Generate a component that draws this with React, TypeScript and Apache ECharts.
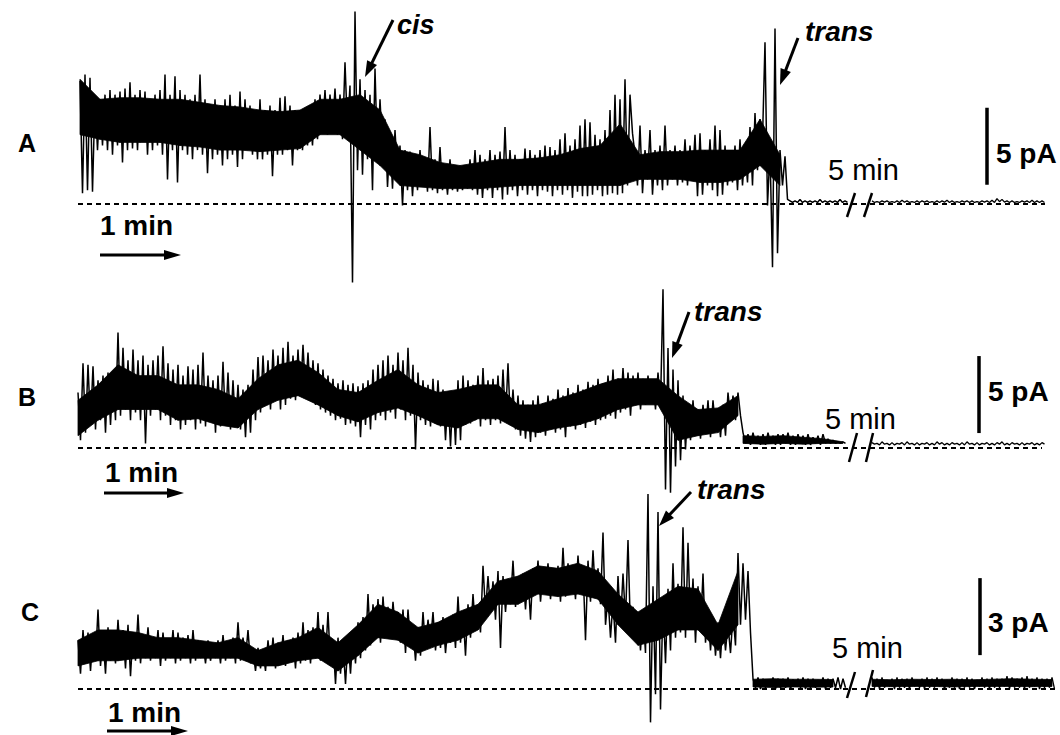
import React, { useEffect, useRef } from "react";
import * as echarts from "echarts";

// time scale: 1 min = 80 px  -> 0.75 s per px; traces sampled as (high, low) pairs every 3.75 s
const STEP = 3.75;
const CORE_STEP = 15; // dense part of the noise read every 15 s
const X_MAX = 795; // seconds across the figure

// ---------- Panel A (pA) ----------
const A_HI = [
  8.0, 8.4, 8.2, 7.0, 6.8, 7.1, 7.4, 7.1, 7.3, 7.5,
  7.9, 7.1, 7.4, 7.3, 6.8, 7.1, 7.4, 8.4, 7.1, 8.3,
  7.4, 7.1, 6.8, 7.1, 8.4, 6.8, 6.4, 6.8, 6.1, 6.8,
  7.1, 6.4, 7.3, 6.8, 6.4, 6.1, 6.8, 6.1, 6.4, 6.1,
  6.9, 7.0, 6.4, 6.1, 5.8, 6.1, 5.8, 6.8, 7.1, 7.4,
  7.1, 7.5, 7.1, 9.2, 7.7, 12.5, 8.1, 7.4, 7.1, 8.8,
  6.8, 5.5, 4.2, 4.8, 3.8, 3.5, 3.4, 3.2, 3.5, 3.0,
  5.0, 2.9, 3.7, 2.5, 2.9, 2.5, 2.2, 2.5, 2.9, 3.5,
  3.2, 2.9, 3.5, 3.2, 3.4, 5.0, 3.5, 3.2, 2.9, 3.6,
  3.5, 3.2, 3.5, 3.8, 3.7, 3.5, 4.2, 4.6, 3.8, 4.2,
  5.1, 5.5, 5.3, 4.5, 4.2, 4.8, 6.1, 7.1, 6.8, 8.1,
  7.1, 3.2, 5.1, 3.5, 4.8, 3.5, 3.8, 5.1, 3.5, 3.8,
  3.5, 4.2, 3.8, 4.5, 4.6, 3.5, 4.2, 5.1, 4.8, 3.8,
  3.5, 3.8, 4.2, 3.5, 5.0, 5.9, 5.5, 10.5, 3.5, 11.4,
  3.5, 3.1,
  0.2, 0.2, 0.3, 0.2, 0.2, 0.2, 0.3, 0.2, 0.2, 0.2, 0.3, 0.2,
];
const A_LO = [
  0.7, 0.9, 0.8, 3.5, 3.8, 3.5, 3.2, 3.8, 2.7, 3.5,
  3.6, 3.5, 4.2, 3.2, 3.5, 3.8, 3.2, 1.6, 3.5, 1.4,
  3.5, 3.2, 2.9, 3.5, 3.2, 2.0, 2.9, 3.2, 2.5, 2.9,
  3.2, 2.4, 2.9, 3.5, 3.2, 2.9, 2.9, 3.2, 1.8, 3.2,
  3.2, 3.5, 2.5, 3.5, 3.5, 3.8, 3.8, 4.2, 4.8, 4.5,
  4.9, 4.5, 4.2, 4.8, -5.1, 2.2, 1.9, 2.9, 0.9, 2.9,
  3.5, 1.1, 1.0, 1.9, -0.1, 0.9, 0.5, 0.9, 1.2, 0.8,
  0.9, 0.7, 0.9, 0.6, 0.9, 0.8, 0.9, 1.0, 0.9, 0.6,
  0.4, 0.9, 0.4, 0.9, 0.3, 0.6, 0.9, 0.5, 0.9, 0.6,
  0.9, 0.5, 0.9, 0.8, 0.5, 0.9, 0.6, 0.9, 0.4, 0.8,
  0.5, 0.5, 0.6, 0.9, 0.5, 0.6, 0.7, 0.6, 0.7, 1.2,
  4.6, 1.2, 0.7, 1.6, 0.6, 1.2, 0.9, 1.2, 1.6, 1.2,
  1.4, 1.2, 1.6, 0.5, 0.6, 1.2, 0.9, 0.5, 0.6, 1.2,
  1.4, 0.9, 1.2, 1.4, 1.2, 2.2, 4.2, -0.1, -4.1, -3.2,
  1.2, 0.3,
  0.1, 0.1, 0.1, 0.1, 0.1, 0.1, 0.1, 0.1, 0.1, 0.1, 0.1, 0.1,
];
// dense part of the noise band (every 15 s)
const A_CORE_TOP = [
  8.1, 6.8, 6.9, 6.9, 6.8, 6.8, 6.6, 6.4, 6.3, 6.1,
  6.0, 6.1, 6.8, 6.8, 7.1, 6.1, 3.5, 3.2, 2.7, 2.5,
  2.7, 2.9, 2.9, 3.0, 3.2, 3.6, 3.8, 5.2, 3.2, 3.4,
  3.4, 3.5, 3.5, 3.5, 5.5, 3.2,
];
const A_CORE_BOT = [
  4.5, 4.2, 4.0, 4.0, 4.0, 3.8, 3.7, 3.5, 3.5, 3.4,
  3.5, 3.6, 4.5, 4.5, 3.5, 2.5, 1.2, 1.1, 1.0, 1.0,
  1.0, 1.1, 1.2, 1.2, 1.2, 1.2, 1.2, 1.2, 1.6, 1.6,
  1.6, 1.4, 1.4, 1.6, 2.5, 1.2,
];
const A_TAIL_HI = [
  0.2, 0.15, 0.2, 0.2, 0.15, 0.2, 0.25, 0.2, 0.15, 0.2, 0.2, 0.2, 0.15, 0.2, 0.2, 0.25, 0.2, 0.15,
  0.2, 0.2, 0.2, 0.15, 0.2, 0.2, 0.25, 0.35, 0.3, 0.2, 0.2, 0.15, 0.2, 0.2, 0.25, 0.2, 0.2,
];
const A_TAIL_LO = [
  0.1, 0.1, 0.12, 0.1, 0.1, 0.1, 0.12, 0.1, 0.1, 0.1, 0.12, 0.1, 0.1, 0.1, 0.12, 0.1, 0.1, 0.1,
  0.12, 0.1, 0.1, 0.1, 0.12, 0.1, 0.1, 0.15, 0.12, 0.1, 0.1, 0.1, 0.12, 0.1, 0.1, 0.1, 0.1,
];

// ---------- Panel B (pA) ----------
const B_HI = [
  3.6, 5.5, 5.4, 5.3, 4.4, 4.7, 4.9, 4.7, 7.5, 6.5,
  5.7, 6.4, 5.7, 6.0, 5.4, 5.7, 6.0, 6.6, 5.5, 5.1,
  5.4, 4.7, 5.3, 5.1, 5.4, 6.2, 4.7, 4.4, 4.7, 5.6,
  4.9, 4.4, 4.1, 3.8, 4.1, 5.1, 5.9, 6.0, 5.7, 6.4,
  6.0, 6.5, 6.9, 6.0, 6.4, 6.7, 6.2, 5.7, 5.5, 5.1,
  4.7, 4.5, 4.2, 4.4, 4.1, 4.2, 4.0, 4.2, 4.4, 5.1,
  5.4, 5.7, 6.0, 5.4, 6.2, 5.7, 6.5, 5.4, 4.9, 4.4,
  4.1, 4.5, 4.4, 3.8, 3.4, 3.6, 4.4, 4.7, 4.4, 4.1,
  4.7, 5.2, 4.4, 4.5, 4.7, 5.1, 5.5, 3.8, 3.4, 3.1,
  2.8, 3.1, 3.4, 2.9, 3.4, 3.2, 3.8, 3.4, 3.9, 3.6,
  4.1, 3.8, 4.3, 4.1, 4.5, 4.2, 4.7, 5.1, 4.5, 5.2,
  4.9, 4.7, 4.9, 4.5, 4.7, 4.4, 4.9, 10.3, 6.5, 5.1,
  4.4, 3.4, 2.8, 3.1, 2.5, 2.8, 3.1, 3.1, 2.5, 2.8,
  3.6, 3.4, 3.6,
  1.0, 0.9, 1.0, 0.8, 0.9, 1.0, 0.8, 0.9, 0.9, 1.0, 0.8, 0.9, 0.8, 0.9, 0.7, 0.8, 0.9, 0.6, 0.5, 0.4, 0.4,
];
const B_LO = [
  0.5, 1.0, 1.5, 1.2, 1.8, 1.0, 1.5, 1.8, 2.1, 2.5,
  1.8, 2.3, 1.8, 0.3, 2.1, 2.5, 1.8, 2.1, 1.5, 1.8,
  1.2, 1.5, 1.8, 1.2, 1.6, 1.4, 1.8, 1.0, 1.4, 1.5,
  1.2, 1.4, 1.2, 0.7, 1.0, 1.8, 2.3, 2.8, 2.5, 3.1,
  2.5, 2.8, 3.2, 3.1, 3.4, 3.6, 3.1, 2.8, 2.5, 2.3,
  2.1, 1.8, 1.9, 1.5, 1.6, 1.4, 0.7, 1.5, 1.2, 1.8,
  2.1, 1.8, 2.3, 1.9, 2.5, 1.8, 2.1, -0.1, 1.8, 1.5,
  1.4, 1.6, 1.4, 0.5, 0.1, 0.2, 0.5, 1.5, 1.6, 1.8,
  1.4, 1.8, 1.5, 1.8, 1.6, 1.8, 1.5, 1.2, 0.8, 0.6,
  0.4, 0.7, 1.0, 0.8, 1.2, 1.0, 1.2, 0.7, 1.4, 1.2,
  1.5, 1.3, 1.7, 1.5, 1.8, 1.9, 2.1, 1.9, 2.3, 2.5,
  2.1, 2.8, 2.5, 2.8, 3.1, 2.5, 2.8, -2.7, -2.9, -1.2,
  -0.8, -0.1, 0.5, 0.8, 0.6, 1.0, 0.7, 1.2, 0.7, 0.8,
  1.9, 1.8, 2.1,
  0.3, 0.2, 0.3, 0.2, 0.2, 0.3, 0.2, 0.2, 0.3, 0.2, 0.2, 0.3, 0.2, 0.2, 0.3, 0.2, 0.3, 0.3, 0.3, 0.3, 0.3,
];
const B_CORE_TOP = [
  3.1, 4.1, 5.4, 4.7, 4.7, 4.1, 4.1, 3.8, 3.2, 4.5,
  5.4, 5.7, 4.9, 3.8, 3.6, 4.4, 5.1, 4.1, 3.6, 3.8,
  4.1, 4.1, 2.8, 2.8, 3.2, 3.6, 4.1, 4.5, 4.5, 4.5,
  3.4, 2.5, 2.6, 3.4,
];
const B_CORE_BOT = [
  0.8, 1.8, 2.5, 2.5, 2.5, 1.8, 1.9, 1.5, 1.3, 2.5,
  3.1, 3.4, 2.8, 2.1, 1.7, 2.3, 2.6, 2.1, 1.5, 1.3,
  1.9, 1.9, 1.2, 1.0, 1.3, 1.5, 1.9, 2.5, 2.8, 2.8,
  0.5, 0.8, 1.0, 2.1,
];
const B_LOW_CORE_TOP = [0.8, 0.75, 0.8, 0.7, 0.6, 0.4];
const B_LOW_CORE_BOT = [0.3, 0.25, 0.3, 0.25, 0.3, 0.3];
const B_TAIL_HI = [
  0.35, 0.3, 0.4, 0.3, 0.35, 0.3, 0.35, 0.4, 0.3, 0.35, 0.3, 0.35, 0.3, 0.4, 0.35, 0.3, 0.35, 0.3,
  0.35, 0.4, 0.3, 0.35, 0.3, 0.35, 0.3, 0.35, 0.4, 0.3, 0.35, 0.3, 0.35, 0.3, 0.35, 0.3, 0.35,
];
const B_TAIL_LO = [
  0.25, 0.2, 0.25, 0.2, 0.2, 0.25, 0.2, 0.25, 0.2, 0.2, 0.25, 0.2, 0.2, 0.25, 0.2, 0.2, 0.25, 0.2,
  0.2, 0.25, 0.2, 0.2, 0.25, 0.2, 0.2, 0.25, 0.2, 0.2, 0.25, 0.2, 0.2, 0.25, 0.2, 0.2, 0.25,
];

// ---------- Panel C (pA) ----------
const C_HI = [
  1.9, 2.3, 2.2, 2.1, 3.1, 2.0, 2.4, 2.1, 2.7, 2.3,
  2.5, 2.2, 2.9, 2.1, 2.4, 2.0, 2.3, 2.2, 1.9, 2.3,
  2.2, 2.0, 2.1, 2.3, 1.9, 1.8, 1.9, 1.7, 1.9, 2.1,
  1.8, 2.0, 2.6, 2.0, 2.3, 1.5, 1.6, 1.5, 1.9, 2.0,
  1.8, 2.1, 1.9, 2.0, 2.2, 2.6, 2.3, 2.4, 3.0, 2.5,
  3.0, 1.9, 2.0, 1.8, 1.9, 2.2, 2.6, 2.8, 3.7, 3.3,
  3.5, 3.6, 3.2, 3.4, 3.0, 3.1, 3.1, 2.3, 2.4, 3.0,
  2.7, 3.0, 2.6, 2.8, 2.5, 2.9, 3.6, 3.0, 3.3, 3.7,
  3.2, 4.8, 4.4, 4.2, 4.6, 4.4, 4.2, 5.0, 4.3, 4.5,
  4.4, 4.7, 5.0, 4.6, 4.9, 4.6, 4.8, 5.5, 4.9, 4.6,
  5.2, 4.8, 5.0, 5.4, 4.7, 6.1, 3.6, 3.4, 4.4, 4.5,
  5.8, 3.2, 2.8, 3.0, 7.6, 4.0, 6.9, 3.5, 3.9, 4.9,
  4.1, 6.3, 5.7, 4.3, 4.0, 4.5, 3.0, 2.7, 2.6, 2.7,
  2.5, 2.9, 5.3, 4.9, 4.6,
  0.4, 0.45, 0.4, 0.35, 0.45, 0.4, 0.4, 0.45, 0.35, 0.4, 0.45, 0.4, 0.4, 0.35, 0.45, 0.4, 0.4, 0.45, 0.4,
];
const C_LO = [
  0.6, 1.0, 0.7, 1.1, 0.9, 0.6, 1.1, 1.0, 1.2, 0.8,
  0.5, 1.1, 1.0, 1.2, 1.1, 1.2, 0.9, 1.1, 1.2, 1.0,
  1.1, 1.2, 1.0, 1.1, 1.2, 1.0, 1.1, 1.2, 1.0, 1.1,
  1.2, 1.0, 1.1, 1.2, 1.0, 0.7, 0.8, 0.7, 0.9, 0.8,
  1.0, 0.9, 1.1, 0.8, 1.0, 1.1, 1.0, 1.2, 1.1, 1.2,
  0.9, 0.2, 0.6, 0.2, 0.6, 1.0, 1.2, 1.5, 1.7, 2.0,
  1.8, 2.1, 2.0, 2.2, 1.8, 1.4, 1.7, 1.1, 1.3, 1.6,
  1.8, 1.5, 1.6, 1.4, 1.8, 1.6, 1.8, 1.3, 2.0, 2.3,
  2.2, 3.0, 3.1, 2.7, 1.6, 3.0, 3.3, 3.2, 3.5, 3.1,
  2.7, 3.7, 3.4, 3.8, 3.5, 3.7, 3.4, 3.6, 3.9, 3.5,
  3.7, 1.9, 3.4, 3.6, 3.3, 2.5, 2.0, 1.8, 2.5, 2.7,
  2.2, 1.9, 1.5, 1.4, -1.3, -0.2, -0.8, 1.0, 1.5, 2.0,
  2.2, 2.0, 2.4, 1.8, 2.3, 1.8, 1.5, 1.3, 1.2, 1.5,
  1.4, 1.7, 2.5, 2.7, 2.2,
  0.05, 0.0, 0.05, 0.1, 0.0, 0.05, 0.05, 0.0, 0.1, 0.05, 0.0, 0.05, 0.05, 0.1, 0.0, 0.05, 0.05, 0.0, 0.05,
];
const C_CORE_TOP = [
  1.9, 2.3, 2.3, 2.2, 2.0, 2.0, 1.9, 1.8, 2.0, 1.5,
  1.8, 2.0, 2.4, 1.8, 2.5, 3.3, 3.0, 2.4, 2.6, 3.0,
  3.3, 4.2, 4.4, 4.8, 4.7, 4.9, 4.6, 3.7, 3.0, 3.5,
  4.0, 3.9, 2.5, 4.6,
];
const C_CORE_BOT = [
  0.9, 1.1, 1.1, 1.2, 1.2, 1.2, 1.2, 1.2, 1.2, 0.9,
  0.9, 1.1, 1.2, 0.7, 1.3, 2.0, 1.9, 1.4, 1.7, 1.9,
  2.3, 3.3, 3.3, 3.7, 3.6, 3.7, 3.5, 2.5, 1.7, 1.9,
  2.3, 2.3, 1.5, 2.5,
];
const C_LOW_CORE_TOP = [0.38, 0.4, 0.38, 0.38, 0.37];
const C_LOW_CORE_BOT = [0.08, 0.06, 0.08, 0.07, 0.08];
const C_TAIL_HI = [
  0.45, 0.4, 0.45, 0.35, 0.4, 0.45, 0.4, 0.4, 0.45, 0.35, 0.4, 0.45, 0.4, 0.45, 0.4, 0.35, 0.45, 0.4, 0.4,
  0.45, 0.4, 0.35, 0.45, 0.4, 0.45, 0.4, 0.4, 0.5, 0.45, 0.4, 0.45, 0.5, 0.4, 0.45, 0.4, 0.4, 0.45,
];
const C_TAIL_LO = [
  0.05, 0.0, 0.05, 0.1, 0.0, 0.05, 0.05, 0.0, 0.1, 0.05, 0.0, 0.05, 0.05, 0.1, 0.0, 0.05, 0.05, 0.0, 0.05,
  0.05, 0.0, 0.1, 0.05, 0.0, 0.05, 0.05, 0.1, 0.0, 0.05, 0.05, 0.0, 0.05, 0.1, 0.0, 0.05, 0.05, 0.0,
];
const C_TAIL_CORE_TOP = [0.38, 0.36, 0.38, 0.37, 0.38, 0.36, 0.38, 0.4, 0.38, 0.37];
const C_TAIL_CORE_BOT = [0.1, 0.09, 0.1, 0.1, 0.08, 0.1, 0.1, 0.1, 0.09, 0.1];

// panel meta: times in s, scale bars in pA
const PANELS = [
  {
    label: "A", top: 0, height: 300, basePx: 204, pxPerPa: 15.4,
    hi: A_HI, lo: A_LO, t0: 60, tailHi: A_TAIL_HI, tailLo: A_TAIL_LO, tailT0: 654,
    bands: [{ top: A_CORE_TOP, bot: A_CORE_BOT, t0: 60 }],
    baseT0: 58.5, baseT1: 783.75, barT: 740.25, barFrom: 1.25, barSize: 5,
  },
  {
    label: "B", top: 280, height: 240, basePx: 448, pxPerPa: 15.4,
    hi: B_HI, lo: B_LO, t0: 58.5, tailHi: B_TAIL_HI, tailLo: B_TAIL_LO, tailT0: 654,
    bands: [
      { top: B_CORE_TOP, bot: B_CORE_BOT, t0: 58.5 },
      { top: B_LOW_CORE_TOP, bot: B_LOW_CORE_BOT, t0: 557.25 },
    ],
    baseT0: 58.5, baseT1: 781.5, barT: 734.25, barFrom: 0.97, barSize: 5,
  },
  {
    label: "C", top: 480, height: 255, basePx: 689, pxPerPa: 77 / 3,
    hi: C_HI, lo: C_LO, t0: 58.5, tailHi: C_TAIL_HI, tailLo: C_TAIL_LO, tailT0: 654,
    bands: [
      { top: C_CORE_TOP, bot: C_CORE_BOT, t0: 58.5 },
      { top: C_LOW_CORE_TOP, bot: C_LOW_CORE_BOT, t0: 564.75 },
      { top: C_TAIL_CORE_TOP, bot: C_TAIL_CORE_BOT, t0: 654 },
    ],
    baseT0: 58.5, baseT1: 791.25, barT: 735, barFrom: 1.32, barSize: 3,
  },
];

function zigzag(hi: number[], lo: number[], t0: number) {
  const pts: number[][] = [];
  const n = Math.min(hi.length, lo.length);
  for (let i = 0; i < n; i++) {
    pts.push([t0 + i * STEP, hi[i]]);
    pts.push([t0 + i * STEP + STEP / 2, lo[i]]);
  }
  return pts;
}

function coreData(top: number[], bot: number[], t0: number) {
  const n = Math.min(top.length, bot.length);
  const out: number[][] = [];
  for (let i = 0; i < n; i++) out.push([t0 + i * CORE_STEP, bot[i], top[i]]);
  return out;
}

function bandSeries(name: string, core: number[][], i: number) {
  return {
    type: "custom",
    name,
    xAxisIndex: i,
    yAxisIndex: i,
    silent: true,
    clip: false,
    z: 2,
    data: core,
    encode: { x: 0, y: [1, 2] },
    renderItem: (params: any, api: any) => {
      const k = params.dataIndex;
      if (k >= core.length - 1) return { type: "group", children: [] };
      const a = core[k];
      const b = core[k + 1];
      const pts = [
        api.coord([a[0], a[2]]),
        api.coord([b[0], b[2]]),
        api.coord([b[0], b[1]]),
        api.coord([a[0], a[1]]),
      ];
      return {
        type: "polygon",
        shape: { points: pts },
        style: { fill: "#000", stroke: "#000", lineWidth: 0.8 },
      };
    },
  };
}

const FONT = '"Liberation Sans", Arial, Helvetica, sans-serif';

function txt(text: string, x: number, y: number, size: number, weight = "bold", fstyle = "normal") {
  return {
    type: "text",
    x,
    y,
    silent: true,
    style: {
      text,
      fill: "#000",
      fontSize: size,
      fontWeight: weight,
      fontStyle: fstyle,
      fontFamily: FONT,
      align: "left",
      verticalAlign: "middle",
    },
  };
}

function arrow(x1: number, y1: number, x2: number, y2: number, w = 3, hl = 16, hw = 5.5) {
  const dx = x2 - x1;
  const dy = y2 - y1;
  const L = Math.hypot(dx, dy);
  const ux = dx / L;
  const uy = dy / L;
  const bx = x2 - ux * hl;
  const by = y2 - uy * hl;
  const px = -uy;
  const py = ux;
  return [
    { type: "line", silent: true, shape: { x1, y1, x2: bx + ux * 2, y2: by + uy * 2 }, style: { stroke: "#000", lineWidth: w } },
    {
      type: "polygon",
      silent: true,
      shape: { points: [[x2, y2], [bx + px * hw, by + py * hw], [bx - px * hw, by - py * hw]] },
      style: { fill: "#000" },
    },
  ];
}

function slash(x1: number, y1: number, x2: number, y2: number) {
  return { type: "line", silent: true, shape: { x1, y1, x2, y2 }, style: { stroke: "#000", lineWidth: 2.5 } };
}

export default function App() {
  const ref = useRef<HTMLDivElement>(null);
  useEffect(() => {
    if (!ref.current) return;
    const chart = echarts.init(ref.current, null, { renderer: "svg" });
    const grids: any[] = [];
    const xAxes: any[] = [];
    const yAxes: any[] = [];
    const series: any[] = [];
    PANELS.forEach((p, i) => {
      const max = (p.basePx - p.top) / p.pxPerPa;
      const min = -(p.top + p.height - p.basePx) / p.pxPerPa;
      grids.push({ left: 0, right: 0, top: p.top, height: p.height, containLabel: false });
      xAxes.push({ type: "value", gridIndex: i, min: 0, max: X_MAX, show: false });
      yAxes.push({ type: "value", gridIndex: i, min, max, show: false });
      const common = {
        type: "line",
        xAxisIndex: i,
        yAxisIndex: i,
        showSymbol: false,
        symbol: "none",
        silent: true,
        clip: false,
      };
      series.push({
        ...common,
        name: p.label + " baseline",
        data: [[p.baseT0, 0], [p.baseT1, 0]],
        lineStyle: { color: "#000", width: 2, type: [5, 4] },
        z: 1,
      });
      p.bands.forEach((b, j) => {
        series.push(bandSeries(p.label + " dense band " + j, coreData(b.top, b.bot, b.t0), i));
      });
      series.push({
        ...common,
        name: p.label + " trace",
        data: zigzag(p.hi, p.lo, p.t0),
        lineStyle: { color: "#000", width: 1.5 },
        z: 3,
      });
      series.push({
        ...common,
        name: p.label + " after",
        data: zigzag(p.tailHi, p.tailLo, p.tailT0),
        lineStyle: { color: "#000", width: 1.3 },
        z: 3,
      });
      series.push({
        ...common,
        name: p.label + " scale",
        data: [[p.barT, p.barFrom], [p.barT, p.barFrom + p.barSize]],
        lineStyle: { color: "#000", width: 3.5 },
        z: 3,
      });
    });

    const graphic: any[] = [
      // panel letters
      txt("A", 18, 143, 25),
      txt("B", 18, 397, 25),
      txt("C", 21, 612, 25),
      // 1 min labels and arrows
      txt("1 min", 100, 225, 28),
      ...arrow(100, 255, 181, 255, 3, 17, 5),
      txt("1 min", 105, 472, 28),
      ...arrow(104, 493, 184, 493, 3, 17, 5),
      txt("1 min", 108, 712, 28),
      ...arrow(107, 731, 188, 731, 3, 17, 5),
      // annotations
      txt("cis", 397, 25, 27, "bold", "italic"),
      ...arrow(393, 20, 365, 77),
      txt("trans", 805, 31, 28, "bold", "italic"),
      ...arrow(798, 38, 780, 85),
      txt("trans", 694, 311, 28, "bold", "italic"),
      ...arrow(689, 312, 672, 358),
      txt("trans", 697, 489, 28, "bold", "italic"),
      ...arrow(691, 492, 659, 526),
      // 5 min breaks
      txt("5 min", 828, 170, 29, "normal"),
      slash(847, 217, 855, 193),
      slash(864, 217, 872, 193),
      txt("5 min", 825, 419, 29, "normal"),
      slash(849, 462, 857, 433),
      slash(866, 462, 873, 433),
      txt("5 min", 832, 648, 29, "normal"),
      slash(847, 698, 855, 672),
      slash(866, 697, 873, 670),
      // scale labels
      txt("5 pA", 996, 153, 28),
      txt("5 pA", 988, 391, 28),
      txt("3 pA", 988, 622, 28),
    ];

    chart.setOption({
      animation: false,
      backgroundColor: "#ffffff",
      grid: grids,
      xAxis: xAxes,
      yAxis: yAxes,
      series,
      graphic,
    });
    return () => chart.dispose();
  }, []);
  return (
    <div
      ref={ref}
      style={{ position: "fixed", left: 0, top: 0, width: 1060, height: 735, background: "#fff" }}
    />
  );
}
